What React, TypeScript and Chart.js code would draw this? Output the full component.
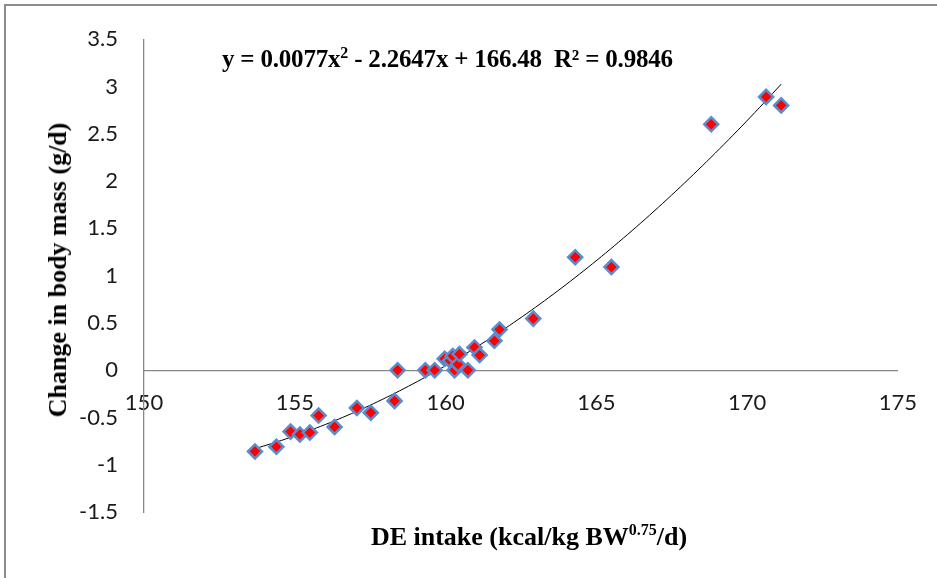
import React, { useEffect, useRef } from "react";
import { Chart, registerables } from "chart.js";

Chart.register(...registerables);

// DE intake (kcal/kg BW^0.75/d)
const intakeX = [
  153.68, 154.39, 154.86, 155.17, 155.5, 155.79, 156.32, 157.06, 157.52, 158.31,
  158.41, 159.33, 159.64, 159.97, 160.15, 160.24, 160.3, 160.41, 160.46, 160.74,
  160.96, 161.13, 161.62, 161.79, 162.91, 164.3, 165.5, 168.81, 170.63, 171.13,
];
// Change in body mass (g/d)
const massChangeY = [
  -0.86, -0.81, -0.65, -0.68, -0.66, -0.48, -0.6, -0.4, -0.45, -0.325,
  0, 0, 0, 0.12, 0.1, 0.15, 0, 0.06, 0.17, 0,
  0.24, 0.16, 0.31, 0.43, 0.545, 1.195, 1.09, 2.6, 2.89, 2.8,
];
const xTickValues = [150, 155, 160, 165, 170, 175];
const yTickValues = [-1.5, -1, -0.5, 0, 0.5, 1, 1.5, 2, 2.5, 3, 3.5];

const equationText = "y = 0.0077x";
const equationRest = " - 2.2647x + 166.48  R² = 0.9846";

// Least-squares quadratic fit of the data (polynomial trendline, order 2)
function fitQuadratic(xs: number[], ys: number[]) {
  const n = xs.length;
  const mx = xs.reduce((a, b) => a + b, 0) / n;
  let s1 = 0, s2 = 0, s3 = 0, s4 = 0, t0 = 0, t1 = 0, t2 = 0;
  for (let i = 0; i < n; i++) {
    const u = xs[i] - mx;
    const y = ys[i];
    s1 += u; s2 += u * u; s3 += u * u * u; s4 += u * u * u * u;
    t0 += y; t1 += u * y; t2 += u * u * y;
  }
  const A = [
    [n, s1, s2, t0],
    [s1, s2, s3, t1],
    [s2, s3, s4, t2],
  ];
  for (let c = 0; c < 3; c++) {
    for (let r = c + 1; r < 3; r++) {
      const f = A[r][c] / A[c][c];
      for (let k = c; k < 4; k++) A[r][k] -= f * A[c][k];
    }
  }
  const b = [0, 0, 0];
  for (let r = 2; r >= 0; r--) {
    let s = A[r][3];
    for (let k = r + 1; k < 3; k++) s -= A[r][k] * b[k];
    b[r] = s / A[r][r];
  }
  return (x: number) => {
    const u = x - mx;
    return b[0] + b[1] * u + b[2] * u * u;
  };
}

export default function App() {
  const canvasRef = useRef<HTMLCanvasElement | null>(null);

  useEffect(() => {
    document.body.style.margin = "0";
    const canvas = canvasRef.current;
    if (!canvas) return;
    const f = fitQuadratic(intakeX, massChangeY);
    const xmin = Math.min(...intakeX);
    const xmax = Math.max(...intakeX);
    const trend: { x: number; y: number }[] = [];
    const steps = 120;
    for (let i = 0; i <= steps; i++) {
      const x = xmin + ((xmax - xmin) * i) / steps;
      trend.push({ x, y: f(x) });
    }
    const points = intakeX.map((x, i) => ({ x, y: massChangeY[i] }));

    const tickFont = { family: "Lato", size: 22 };

    const chart = new Chart(canvas, {
      type: "scatter",
      data: {
        datasets: [
          {
            type: "line",
            data: trend,
            borderColor: "#000000",
            borderWidth: 1,
            pointRadius: 0,
            fill: false,
            tension: 0,
            order: 2,
          } as any,
          {
            data: points,
            pointStyle: "rectRot",
            pointRadius: 7,
            backgroundColor: "#FF0000",
            borderColor: "#5B8CCB",
            borderWidth: 2.5,
            order: 1,
          },
        ],
      },
      options: {
        animation: false,
        responsive: false,
        maintainAspectRatio: false,
        layout: { padding: { left: 0, top: 33, right: 39, bottom: 66 } },
        plugins: {
          legend: { display: false },
          tooltip: { enabled: false },
        },
        scales: {
          x: {
            type: "linear",
            min: 150,
            max: 175,
            position: { y: 0 } as any,
            afterFit: (s: any) => {
              s.height = 0;
            },
            afterBuildTicks: (s: any) => {
              s.ticks = xTickValues.map((v) => ({ value: v }));
            },
            grid: { display: true, color: "rgba(0,0,0,0)", drawTicks: false },
            border: { display: true, color: "#888888", width: 1.3 },
            ticks: {
              font: tickFont,
              color: "#1a1a1a",
              padding: 20,
              maxRotation: 0,
              callback: (v: any) => String(v),
            },
          },
          y: {
            type: "linear",
            min: -1.5,
            max: 3.5,
            position: "left",
            afterFit: (s: any) => {
              s.width = 144;
            },
            afterBuildTicks: (s: any) => {
              s.ticks = yTickValues.map((v) => ({ value: v }));
            },
            grid: { display: true, color: "rgba(0,0,0,0)", drawTicks: false },
            border: { display: true, color: "#888888", width: 1.3 },
            ticks: {
              font: tickFont,
              color: "#1a1a1a",
              padding: 26,
              callback: (v: any) => String(v),
            },
          },
        },
      } as any,
    });
    return () => chart.destroy();
  }, []);

  const serifBold: React.CSSProperties = {
    fontFamily: '"Liberation Serif", "Times New Roman", serif',
    fontWeight: "bold",
    color: "#000",
    whiteSpace: "pre",
    position: "absolute",
  };

  return (
    <div style={{ position: "relative", width: 937, height: 578, background: "#fff", overflow: "hidden" }}>
      <div
        style={{
          position: "absolute",
          left: 4,
          top: 4,
          right: -10,
          bottom: -10,
          borderLeft: "2px solid #8c8c8c",
          borderTop: "2px solid #8c8c8c",
        }}
      />
      <canvas ref={canvasRef} width={937} height={578} style={{ position: "absolute", left: 0, top: 0 }} />
      <div style={{ ...serifBold, left: 222, top: 44, fontSize: 25, lineHeight: "30px", letterSpacing: "-0.2px" }}>
        {equationText}
        <sup style={{ fontSize: 16, lineHeight: 0 }}>2</sup>
        {equationRest}
      </div>
      <div
        style={{
          ...serifBold,
          left: 529,
          top: 537,
          transform: "translate(-50%, -50%)",
          fontSize: 26,
          lineHeight: "30px",
        }}
      >
        DE intake (kcal/kg BW<sup style={{ fontSize: 16, lineHeight: 0 }}>0.75</sup>/d)
      </div>
      <div
        style={{
          ...serifBold,
          left: 58,
          top: 270,
          transform: "translate(-50%, -50%) rotate(-90deg)",
          fontSize: 26,
          lineHeight: "30px",
        }}
      >
        Change in body mass (g/d)
      </div>
    </div>
  );
}
